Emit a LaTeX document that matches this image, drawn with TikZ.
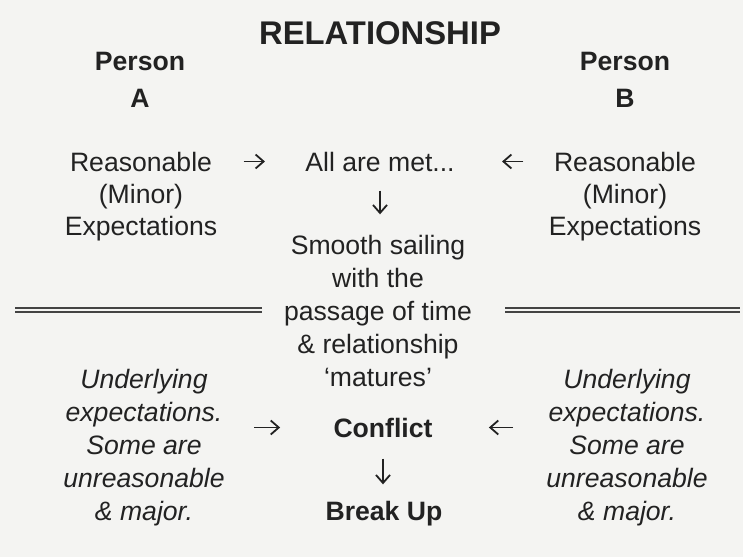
\documentclass[tikz,border=0pt]{standalone}
\usepackage{fontspec}
\setmainfont{Liberation Sans}
\usepackage{tikz}
\usetikzlibrary{arrows.meta}

\definecolor{ink}{HTML}{222222}
\definecolor{paper}{HTML}{F4F4F2}

\begin{document}
\begin{tikzpicture}[x=0.5pt,y=-0.5pt,
txt/.style={inner sep=0pt,align=center,anchor=base,text=ink,font=\fontsize{13.3}{16}\selectfont},
mid/.style={txt,font=\fontsize{13.3}{16.5}\selectfont},
itx/.style={txt,font=\fontsize{13.3}{16.5}\selectfont\itshape},
bld/.style={txt,font=\fontsize{13.3}{18.5}\selectfont\bfseries},
arr/.style={draw=ink,line width=0.9pt,-{Straight Barb[length=4pt,width=7pt]}},
rule/.style={draw=ink!85,double=paper,double distance=1.2pt,line width=0.9pt}
]
\fill[paper] (0,0) rectangle (743,557);

% heading and the two people (base = last line)
\node[bld,font=\fontsize{16.4}{20}\selectfont\bfseries] (title) at (380,44) {RELATIONSHIP};
\node[bld] (personA) at (140,107) {Person\\A};
\node[bld] (personB) at (625,107) {Person\\B};

% early stage
\node[txt] (reasA) at (141,235) {Reasonable\\(Minor)\\Expectations};
\node[txt] (reasB) at (625,235) {Reasonable\\(Minor)\\Expectations};
\node[txt] (met) at (380,171) {All are met...};
\node[mid] (smooth) at (378,386) {Smooth sailing\\with the\\passage of time\\\& relationship\\‘matures’};

\draw[arr,shorten <=13pt,shorten >=20pt] (reasA.east |- met) -- (met.west);
\draw[arr,shorten <=12.5pt,shorten >=23.5pt] (reasB.west |- met) -- (met.east);
\draw[arr,shorten <=9.5pt,shorten >=10pt] (met.south) -- (met.south |- smooth.north);

% dividing lines
\draw[rule] (15,310) -- (262,310);
\draw[rule] (505,310) -- (740,310);

% later stage
\node[itx] (underA) at (144,520) {Underlying\\expectations.\\Some are\\unreasonable\\\& major.};
\node[itx] (underB) at (627,520) {Underlying\\expectations.\\Some are\\unreasonable\\\& major.};
\node[bld] (conflict) at (383,437) {Conflict};
\node[bld] (breakup) at (384,520) {Break Up};

\draw[arr,shorten <=14.5pt,shorten >=26.5pt] (underA.east |- conflict) -- (conflict.west);
\draw[arr,shorten <=16.5pt,shorten >=28pt] (underB.west |- conflict) -- (conflict.east);
\draw[arr,shorten <=10.5pt,shorten >=8pt] (conflict.south) -- (conflict.south |- breakup.north);
\end{tikzpicture}
\end{document}
